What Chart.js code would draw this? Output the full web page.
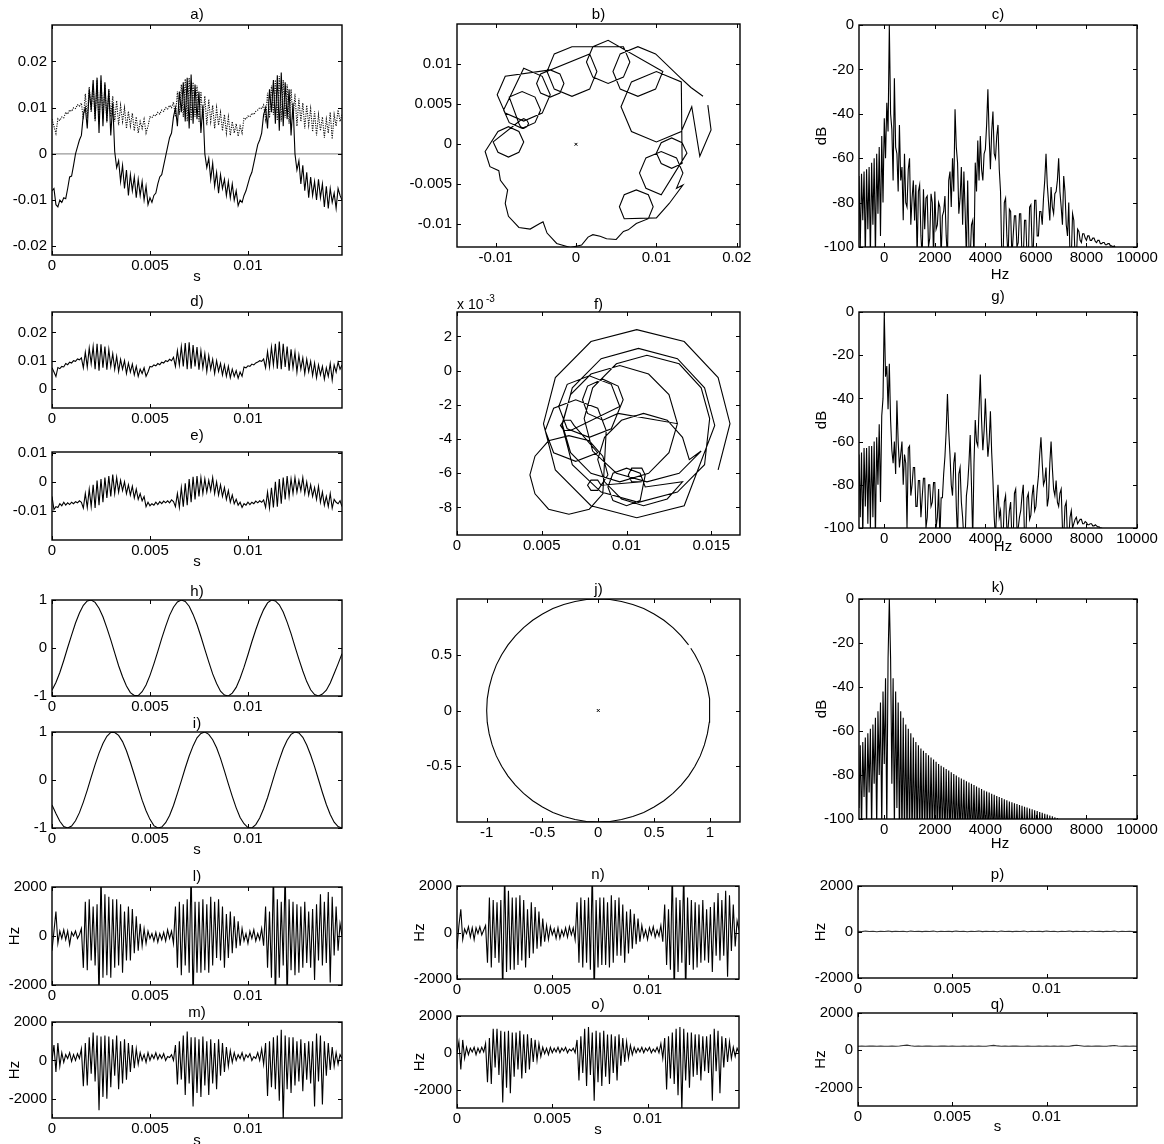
<!DOCTYPE html>
<html>
<head>
<meta charset="utf-8">
<script src="https://cdn.jsdelivr.net/npm/chart.js@4.4.1/dist/chart.umd.min.js"></script>
<style>
  html, body { margin: 0; padding: 0; background: #fff; overflow: hidden; }
  #page { position: relative; width: 1164px; height: 1144px; background: #fff; }
  #page canvas { position: absolute; }
</style>
</head>
<body>
<div id="page"></div>
<script>
// sample spacing of the time signals (s) and of the spectra (Hz)
const STEP = 0.0001;
const STEP_SLOW = 0.0002;
const BIN = 50;
const BIN_START = -1000;

// a) signal and its envelope (also d), e) quadrature part -- units of 1e-4
const signalA = [
  -80,-75,-110,-115,-100,-105,-95,-97,-75,-50,
  -48,-25,0,15,30,40,85,100,55,140,
  95,160,75,165,45,170,60,155,70,140,
  40,110,5,-30,-15,-60,-25,-75,-35,-90,
  -45,-80,-50,-95,-55,-90,-60,-100,-70,-110,
  -95,-105,-90,-85,-65,-50,-45,-25,-5,15,
  35,45,80,100,60,135,90,155,70,165,
  55,172,65,150,75,135,45,105,0,-30,
  -10,-55,-20,-70,-40,-85,-45,-75,-55,-90,
  -60,-95,-65,-100,-80,-112,-100,-105,-90,-80,
  -65,-50,-40,-20,0,20,30,45,85,100,
  55,140,90,160,65,170,50,176,60,155,
  75,140,40,110,0,-35,-15,-65,-25,-80,
  -40,-95,-50,-90,-60,-100,-55,-95,-65,-115,
  -70,-118,-75,-105,-85,-118,-75,-90,-100
];
const envelope = [
  75,60,44,76,72,80,78,90,86,95,
  92,100,98,106,103,110,75,130,78,145,
  90,150,70,160,65,158,75,150,68,140,
  80,125,70,115,62,105,70,100,55,92,
  60,88,50,80,45,70,55,75,45,60,
  80,78,85,82,90,86,95,92,100,97,
  105,100,112,80,135,85,150,80,162,70,
  165,72,155,80,148,68,135,75,125,62,
  118,70,105,55,100,62,90,50,85,45,
  80,40,70,45,65,38,60,45,78,75,
  82,80,88,85,92,95,100,98,106,75,
  132,78,148,85,160,72,168,70,160,78,
  150,65,140,75,130,60,120,70,110,55,
  105,62,98,48,92,40,85,50,80,35,
  75,45,90,32,85,60,95,70,85
];
const quadrature = [
  -50,-95,-85,-88,-75,-82,-70,-80,-72,-78,
  -70,-75,-68,-72,-65,-70,-90,-40,-88,-25,
  -85,-10,-90,5,-80,10,-70,15,-55,20,
  -50,25,-40,15,-35,5,-30,0,-40,-10,
  -45,-15,-55,-25,-60,-40,-65,-50,-85,-70,
  -82,-75,-80,-70,-78,-68,-75,-66,-72,-65,
  -72,-62,-68,-85,-40,-88,-20,-85,-5,-80,
  10,-70,18,-60,20,-50,15,-40,10,-35,
  5,-30,15,-40,0,-45,-10,-50,-20,-60,
  -30,-70,-45,-75,-60,-80,-70,-88,-75,-80,
  -70,-78,-70,-75,-66,-72,-65,-70,-62,-88,
  -35,-90,-20,-88,0,-85,10,-75,15,-60,
  20,-50,10,-40,15,-35,5,-30,15,-40,
  0,-45,-10,-50,-20,-60,-15,-70,-35,-80,
  -50,-85,-40,-90,-60,-70,-75,-65,-85
];
const zeroLevel = [[0, 0], [0.0148, 0]];

// b) and f) trajectories, [real, imaginary] in units of 1e-4
const orbitB = [
  [158,60],[143,71],[129,84],
  [99,113],[77,122],[55,113],[46,91],[55,69],[77,60],[99,69],[108,91],
  [40,130],[21,122],[13,103],[21,84],[40,76],[59,84],[67,103],[59,122],
  [-5,122],[-27,113],[-36,91],[-27,69],[-5,60],[17,69],[26,91],[17,113],
  [-44,88],[-49,76],[-44,64],[-32,59],[-20,64],[-15,76],[-20,88],[-32,93],
  [-88,85],[-98,62],[-88,39],[-65,29],[-42,39],[-32,62],[-42,85],[-65,95],
  [-90,43],[-83,27],[-67,20],[-51,27],[-44,43],[-51,59],[-67,66],[-83,59],
  [-71,26],[-69,22],[-65,20],[-61,22],[-59,26],[-61,30],[-65,32],[-69,30],
  [-103,3],[-97,-10],[-84,-16],[-71,-10],[-65,3],[-71,16],[-84,22],[-97,16],
  [-113,-9],[-107,-28],[-96,-33],[-94,-45],[-85,-57],[-88,-74],[-84,-90],[-71,-104],
  [-57,-106],[-45,-99],[-41,-97],[-36,-111],[-24,-124],[-7,-129],[7,-126],[15,-116],
  [21,-113],[30,-115],[38,-118],[50,-119],[59,-109],[65,-107],
  [75,-99],[90,-93],[96,-78],[90,-63],[75,-57],[60,-63],[54,-78],[60,-93],
  [100,-92],[116,-74],[133,-51],
  [125,-55],[133,-36],[125,-17],[106,-9],[87,-17],[79,-36],[87,-55],[106,-63],
  [138,-11],[132,2],[119,8],[106,2],[100,-11],[106,-24],[119,-30],[132,-24],
  [131,78],[100,91],[69,78],[56,47],[69,16],[100,3],[131,16],[144,47],
  [154,-15],[168,18],[164,49]
];
const orbitF = [
  [154,-58],[161,-31],[154,-4],[134,17],[106,24],[79,17],[58,-4],[51,-31],[58,-58],[79,-79],[106,-86],[134,-79],
  [152,-32],[146,-10],[130,7],[107,13],[85,7],[68,-10],[62,-32],[68,-55],[85,-71],[107,-77],[130,-71],[146,-55],
  [149,-28],[144,-10],[131,4],[112,9],[94,4],[80,-10],[75,-28],[80,-47],[94,-60],[112,-65],[131,-60],[144,-47],
  [137,-52],[133,-39],[124,-29],[110,-25],[97,-29],[87,-39],[83,-52],[87,-65],[97,-75],[110,-79],[124,-75],[133,-65],
  [111,-68],[108,-60],[100,-57],[92,-60],[89,-68],[92,-76],[100,-79],[108,-76],
  [111,-61],[109,-57],[103,-57],[101,-61],[103,-65],[109,-65],
  [85,-67],[83,-64],[79,-64],[77,-67],[79,-70],[83,-70],
  [89,-61],[86,-50],[78,-41],[66,-38],[54,-41],[46,-50],[43,-61],[46,-72],[54,-81],[66,-84],[78,-81],[86,-72],
  [88,-35],[83,-22],[70,-17],[57,-22],[52,-35],[57,-48],[70,-53],[83,-48],
  [69,-32],[67,-29],[63,-29],[61,-32],[63,-35],[67,-35],
  [96,-21],[91,-8],[78,-3],[65,-8],[60,-21],[65,-34],[78,-39],[91,-34],
  [98,-17],[95,-9],[86,-5],[77,-9],[74,-17],[77,-25],[86,-29],[95,-25],
  [130,-31],[125,-14],[113,-2],[96,3],[79,-2],[67,-14],[62,-31],[67,-48],[79,-60],[96,-65],[113,-60],[125,-48],[130,-31]
];

// h), i) pure tone and its quadrature, j) their trajectory
const toneH = [
  -0.88,-0.72,-0.51,-0.26,0.01,0.27,0.52,0.73,0.89,0.98,
  1.00,0.95,0.83,0.65,0.42,0.17,-0.10,-0.37,-0.60,-0.79,
  -0.93,-0.99,-0.99,-0.91,-0.77,-0.57,-0.33,-0.07,0.20,0.45,
  0.68,0.85,0.96,1.00,0.97,0.87,0.70,0.49,0.24,-0.03,
  -0.29,-0.54,-0.74,-0.90,-0.98,-1.00,-0.94,-0.82,-0.63,-0.40,
  -0.14,0.13,0.38,0.61,0.80,0.94,1.00,0.98,0.90,0.75,
  0.54,0.30,0.03,-0.23,-0.48,-0.70,-0.87,-0.97,-1.00,-0.96,
  -0.88,-0.73,-0.53,-0.33,-0.12
];
const toneI = [
  -0.52,-0.70,-0.86,-0.97,-1.00,-0.96,-0.85,-0.68,-0.46,-0.21,
  0.06,0.32,0.56,0.76,0.91,0.99,0.99,0.93,0.80,0.61,
  0.37,0.11,-0.16,-0.42,-0.64,-0.82,-0.95,-1.00,-0.98,-0.89,
  -0.74,-0.53,-0.28,-0.02,0.25,0.50,0.71,0.88,0.97,1.00,
  0.95,0.84,0.67,0.45,0.19,-0.08,-0.34,-0.58,-0.78,-0.91,
  -0.99,-1.00,-0.93,-0.79,-0.60,-0.37,-0.10,0.17,0.42,0.65,
  0.83,0.95,1.00,0.98,0.89,0.73,0.52,0.28,0.01,-0.26,
  -0.51,-0.72,-0.88,-0.97,-1.00
];
const ringJ = [
  [.809,.588],[.743,.669],[.669,.743],[.588,.809],[.5,.866],[.407,.914],[.309,.951],[.208,.978],[.105,.995],[0,1],
  [-.105,.995],[-.208,.978],[-.309,.951],[-.407,.914],[-.5,.866],[-.588,.809],[-.669,.743],[-.743,.669],[-.809,.588],[-.866,.5],
  [-.914,.407],[-.951,.309],[-.978,.208],[-.995,.105],[-1,0],[-.995,-.105],[-.978,-.208],[-.951,-.309],[-.914,-.407],[-.866,-.5],
  [-.809,-.588],[-.743,-.669],[-.669,-.743],[-.588,-.809],[-.5,-.866],[-.407,-.914],[-.309,-.951],[-.208,-.978],[-.105,-.995],[0,-1],
  [.105,-.995],[.208,-.978],[.309,-.951],[.407,-.914],[.5,-.866],[.588,-.809],[.669,-.743],[.743,-.669],[.809,-.588],[.866,-.5],
  [.914,-.407],[.951,-.309],[.978,-.208],[.995,-.105],[1,0],[.995,.105],[.978,.208],[.951,.309],[.914,.407],[.866,.5],[.829,.559]
];

// c), g), k) magnitude spectra in dB, 50 Hz bins from -1000 Hz
const spectrumC = [
  -68,-100,-67,-88,-66,-105,-65,-92,-64,-105,
  -62,-90,-60,-105,-58,-85,-55,-95,-50,-80,
  -42,-60,-35,-48,0,-40,-47,-70,-24,-55,
  -58,-75,-45,-70,-64,-88,-58,-80,-82,-65,
  -60,-90,-78,-70,-88,-72,-105,-75,-72,-95,
  -105,-74,-92,-78,-77,-100,-96,-76,-80,-105,
  -75,-92,-90,-80,-82,-105,-86,-84,-77,-95,
  -105,-70,-66,-82,-60,-75,-38,-55,-62,-85,
  -78,-64,-90,-66,-84,-105,-70,-100,-105,-90,
  -88,-105,-62,-75,-52,-70,-50,-65,-70,-58,
  -56,-45,-29,-50,-65,-48,-39,-58,-60,-50,
  -45,-65,-75,-105,-105,-80,-78,-95,-105,-83,
  -84,-105,-95,-86,-86,-100,-98,-85,-85,-105,
  -105,-88,-88,-105,-105,-82,-81,-100,-100,-79,
  -79,-95,-95,-84,-84,-90,-78,-70,-58,-72,
  -80,-88,-73,-82,-85,-76,-75,-70,-60,-75,
  -82,-90,-68,-75,-90,-95,-80,-105,-105,-85,
  -88,-105,-105,-92,-93,-97,-98,-94,-94,-96,
  -97,-95,-95,-97,-97,-96,-96,-97.5,-98,-97,
  -97,-98.5,-98.5,-98,-98,-99,-99,-98.5,-98.5,-99.5,
  -99.5,-100,-99.5,-100.5,-100.5,-101,-101,-102,-103,-103.5,
  -104,-104.5,-105,-105,-105,-106,-106,-106,-106,-107,
  -107
];
const spectrumG = [
  -66,-95,-65,-105,-63,-90,-63,-98,-62,-100,
  -62,-95,-60,-105,-58,-80,-52,-88,-48,-40,
  0,-30,-25,-45,-24,-50,-64,-70,-60,-75,
  -41,-60,-72,-66,-60,-80,-66,-70,-100,-63,
  -62,-85,-80,-72,-72,-90,-90,-78,-78,-95,
  -86,-77,-77,-100,-95,-80,-80,-90,-88,-79,
  -79,-100,-95,-82,-105,-86,-86,-75,-67,-55,
  -38,-55,-66,-80,-85,-70,-65,-90,-105,-75,
  -72,-88,-95,-105,-105,-85,-80,-70,-57,-80,
  -105,-70,-50,-60,-62,-45,-29,-50,-64,-55,
  -40,-55,-67,-60,-46,-65,-78,-95,-105,-90,
  -80,-95,-92,-105,-105,-88,-85,-100,-100,-92,
  -88,-105,-105,-84,-82,-100,-100,-95,-92,-85,
  -80,-105,-105,-86,-84,-96,-94,-85,-80,-92,
  -90,-82,-76,-66,-58,-70,-80,-78,-72,-90,
  -86,-70,-60,-72,-82,-85,-78,-88,-90,-84,
  -82,-100,-105,-90,-88,-105,-105,-95,-92,-100,
  -98,-96,-95,-98,-97,-96,-96,-98,-98,-97,
  -97.5,-98.5,-98.5,-98,-98,-99,-99,-98.5,-99,-99.5,
  -99.5,-100,-100,-100.5,-100.5,-101,-101,-101.5,-102,-102.5,
  -103,-103.5,-104,-104,-104,-104.5,-105,-105,-105,-105.5,
  -106,-106,-106,-106.5,-107,-107,-107,-107.5,-108,-108,
  -108
];
const spectrumK = [
  -95,-66.5,-105,-65,-90,-63,-105,-61,-88,-59,
  -105,-57,-84,-54,-105,-51,-80,-47,-105,-42,
  -75,-36,-105,-27,0,-27,-84,-36,-105,-42,
  -95,-47,-110,-51,-110,-54,-110,-57,-110,-59,
  -110,-61,-110,-63,-110,-65,-110,-66.5,-110,-68,
  -110,-69,-110,-70,-110,-71,-110,-72,-110,-73,
  -110,-74,-110,-75,-110,-75.8,-110,-76.5,-110,-77.3,
  -110,-78,-110,-78.8,-110,-79.5,-110,-80.2,-110,-81,
  -110,-81.6,-110,-82.2,-110,-82.8,-110,-83.4,-110,-84,
  -110,-84.6,-110,-85.2,-110,-85.8,-110,-86.4,-110,-87,
  -110,-87.5,-110,-88,-110,-88.5,-110,-89,-110,-89.5,
  -110,-90,-110,-90.5,-110,-91,-110,-91.5,-110,-92,
  -110,-92.4,-110,-92.8,-110,-93.2,-110,-93.6,-110,-94,
  -110,-94.4,-110,-94.8,-110,-95.2,-110,-95.6,-110,-96,
  -110,-96.4,-110,-96.8,-110,-97.2,-110,-97.6,-110,-98,
  -110,-98.4,-110,-98.8,-110,-99.2,-110,-99.6,-110,-100,
  -110,-100.4,-110,-100.8,-110,-101.2,-110,-101.6,-110,-102,
  -110,-102.4,-110,-102.8,-110,-103.2,-110,-103.6,-110,-104,
  -110,-104.4,-110,-104.8,-110,-105.2,-110,-105.6,-110,-106,
  -110,-106,-110,-106,-110,-106,-110,-106,-110,-106,
  -110,-106,-110,-106,-110,-106,-110,-106,-110,-106,
  -110,-106,-110,-106,-110,-106,-110,-106,-110,-106,
  -110
];

// l) - q) instantaneous frequency in Hz
const freqL = [
  -600,200,1000,-300,200,-100,250,-150,200,-350,
  150,0,200,-100,50,300,-1300,1400,-1400,1500,
  -1000,1200,-1200,1300,-2600,2600,-1700,1700,-1600,1600,
  -1700,1500,-1300,1500,-1200,1300,-1500,1000,-1000,1200,
  -1000,1100,-700,800,-600,500,-400,300,-300,200,
  -100,100,-200,150,-250,100,-150,150,-200,250,
  -100,200,-300,1200,-1300,1400,-1600,1300,-1200,1500,
  -1500,2800,-2800,1400,-1500,1400,-1500,1500,-1400,1300,
  -1500,1600,-1200,1400,-900,1500,-1000,1200,-1300,900,
  -900,1000,-700,800,-500,600,-400,300,-200,100,
  -300,200,-100,250,-200,100,-150,300,-400,1200,
  -1300,1000,-1700,2800,-2800,1500,-1700,1400,-1200,2800,
  -2800,1500,-1400,1400,-1600,1300,-1500,1200,-1300,1400,
  -1100,1000,-1300,1100,-1800,1300,-1000,1700,-1200,1400,
  -1100,1800,-1900,1600,-800,1200,-600,500,0
];
const freqM = [
  0,800,-600,900,-300,400,-100,300,100,400,
  -50,300,0,350,100,600,-1350,900,-1300,1200,
  -700,1450,-1100,1300,-2600,1250,-1900,1300,-2000,1250,
  -1400,1100,-800,1300,-1500,1000,-1200,1100,-1000,900,
  -600,800,-400,600,-200,400,0,300,-100,400,
  0,300,100,400,50,300,100,350,0,200,
  150,300,0,800,-1250,1000,-1000,1300,-1800,1500,
  -1200,1200,-2400,1200,-1700,1100,-1900,1250,-1300,1000,
  -1800,1100,-1200,900,-1500,1100,-800,900,-600,700,
  -300,500,-100,400,0,300,100,400,0,300,
  150,350,0,200,100,400,0,600,-200,900,
  -1850,1000,-1400,1200,-1500,1300,-2100,1600,-3200,1300,
  -1500,1200,-1700,1200,-1300,1000,-1100,1100,-1600,900,
  -1000,1000,-1200,1000,-2400,1400,-1100,1300,-2300,1000,
  -800,900,-500,700,-300,400,-200,300,100
];
const freqN = [
  -700,300,1000,-300,150,-50,250,-200,200,-300,
  200,-50,250,-100,100,300,-1300,1500,-1500,1400,
  -1100,1300,-1300,1400,-2700,2700,-1700,1800,-1600,1500,
  -1600,1500,-1400,1600,-1200,1400,-1500,1000,-1100,1300,
  -900,1100,-700,900,-600,600,-400,300,-300,250,
  -100,150,-250,200,-250,100,-150,200,-200,250,
  -100,200,-300,1300,-1300,1500,-1500,1400,-1300,1500,
  -1600,2800,-2800,1400,-1500,1500,-1400,1500,-1400,1300,
  -1500,1600,-1300,1400,-1000,1500,-1000,1200,-1300,900,
  -900,1000,-700,800,-500,600,-400,300,-200,100,
  -300,200,-100,250,-200,100,-150,300,-400,1200,
  -1400,1000,-1600,2800,-2800,1500,-1700,1400,-1300,2800,
  -2800,1500,-1400,1400,-1600,1300,-1500,1200,-1300,1400,
  -1200,1000,-1300,1100,-1700,1300,-1000,1700,-1200,1400,
  -1000,1800,-1900,1600,-800,1200,-600,500,100
];
const freqO = [
  0,600,-900,700,-300,300,-100,250,50,300,
  -100,250,0,300,50,500,-1600,800,-1700,1300,
  -800,1300,-1200,1200,-2700,1150,-1900,1200,-2200,1100,
  -1300,1100,-900,1200,-1400,1000,-1100,1000,-900,800,
  -500,700,-400,500,-200,300,-50,250,-100,300,
  0,250,50,300,0,250,100,300,0,200,
  100,250,0,700,-1500,900,-1100,1300,-1800,1400,
  -1200,1100,-2600,1200,-1600,1100,-1800,1200,-1300,1000,
  -1700,1000,-1100,900,-1500,1000,-700,800,-500,600,
  -300,400,-100,300,0,250,50,300,0,250,
  100,300,0,200,50,300,0,500,-300,800,
  -2000,900,-1400,1100,-1700,1300,-2300,1400,-3200,1300,
  -1500,1100,-1900,1100,-1300,1000,-1200,1000,-1500,900,
  -1000,900,-1100,1000,-2600,1300,-1000,1200,-2200,900,
  -800,800,-500,600,-300,300,-200,250,0
];
const freqP = [
  30,15,40,20,35,10,30,25,40,15,
  35,20,30,10,40,25,35,15,30,20,
  40,10,35,25,30,15,40,20,35,10,
  30,25,40,15,35,20,30,10,40,25,
  35,15,30,20,40,10,35,25,30,15,
  40,20,35,10,30,25,40,15,35,20,
  30,10,40,25,35,15,30,20,40,10,
  35,25,30,15,25
];
const freqQ = [
  215,220,210,225,218,212,222,215,210,220,
  215,225,250,270,235,215,220,212,218,222,
  215,210,220,218,212,222,216,214,220,212,
  218,215,222,210,216,240,260,230,214,220,
  212,218,222,215,210,220,216,212,222,215,
  218,212,220,215,222,210,216,245,265,240,
  215,220,212,218,222,215,210,235,250,225,
  215,220,212,218,215
];

// axis limits, tick positions and tick labels
const timeAxis = { min: 0, max: 0.0148, ticks: [0, 0.005, 0.01], labels: ['0', '0.005', '0.01'] };
const freqAxis = { min: -1000, max: 10000, ticks: [0, 2000, 4000, 6000, 8000, 10000], labels: ['0', '2000', '4000', '6000', '8000', '10000'] };
const dbAxis = { min: -100, max: 0, ticks: [-100, -80, -60, -40, -20, 0], labels: ['-100', '-80', '-60', '-40', '-20', '0'] };
const aAxis = { min: -219, max: 279, ticks: [-200, -100, 0, 100, 200], labels: ['-0.02', '-0.01', '0', '0.01', '0.02'] };
const dAxis = { min: -67, max: 272, ticks: [0, 100, 200], labels: ['0', '0.01', '0.02'] };
const eAxis = { min: -200, max: 103, ticks: [-100, 0, 100], labels: ['-0.01', '0', '0.01'] };
const bAxisX = { min: -148, max: 204, ticks: [-100, 0, 100, 200], labels: ['-0.01', '0', '0.01', '0.02'] };
const bAxisY = { min: -128.4, max: 150.4, ticks: [-100, -50, 0, 50, 100], labels: ['-0.01', '-0.005', '0', '0.005', '0.01'] };
const fAxisX = { min: 0, max: 166.9, ticks: [0, 50, 100, 150], labels: ['0', '0.005', '0.01', '0.015'] };
const fAxisY = { min: -96.1, max: 34.3, ticks: [-80, -60, -40, -20, 0, 20], labels: ['-8', '-6', '-4', '-2', '0', '2'] };
const unitAxis = { min: -1, max: 1, ticks: [-1, 0, 1], labels: ['-1', '0', '1'] };
const jAxisX = { min: -1.266, max: 1.27, ticks: [-1, -0.5, 0, 0.5, 1], labels: ['-1', '-0.5', '0', '0.5', '1'] };
const jAxisY = { min: -1, max: 1, ticks: [-0.5, 0, 0.5], labels: ['-0.5', '0', '0.5'] };
const hzAxis = { min: -2000, max: 2000, ticks: [-2000, 0, 2000], labels: ['-2000', '0', '2000'] };
const hzAxisWide = { min: -3000, max: 2000, ticks: [-2000, 0, 2000], labels: ['-2000', '0', '2000'] };

const FONT = '"Liberation Sans", Arial, Helvetica, sans-serif';
const FONT_SIZE = 15;
const PAD = { left: 52, top: 26, right: 26, bottom: 40 };
const page = document.getElementById('page');

const sampled = (values, step, start = 0) => values.map((v, i) => ({ x: start + i * step, y: v }));
const points = (list) => list.map(([x, y]) => ({ x, y }));

function trace(data, extra) {
  return Object.assign({ data, borderColor: '#000', borderWidth: 1.1, pointRadius: 0, tension: 0, fill: false }, extra);
}
function originMark() {
  return { data: [{ x: 0, y: 0 }], showLine: false, pointStyle: 'crossRot', pointRadius: 2, borderColor: '#000', borderWidth: 1 };
}

function scale(spec, vertical) {
  return {
    type: 'linear',
    min: spec.min,
    max: spec.max,
    grid: { display: false, drawTicks: false },
    border: { display: false },
    afterBuildTicks: (s) => { s.ticks = spec.ticks.map((v) => ({ value: v })); },
    afterFit: (s) => { if (vertical) s.width = PAD.left; else s.height = PAD.bottom; },
    ticks: {
      autoSkip: false,
      maxRotation: 0,
      minRotation: 0,
      padding: vertical ? 5 : 2,
      color: '#000',
      font: { family: FONT, size: FONT_SIZE },
      callback: (v, i) => spec.labels[i]
    }
  };
}

// box, inward ticks on all four sides, title and axis labels
const frame = {
  id: 'frame',
  afterDatasetsDraw(chart, args, o) {
    const { ctx, chartArea: a } = chart;
    const { x, y } = chart.scales;
    const len = 4;
    ctx.save();
    ctx.strokeStyle = '#000';
    ctx.lineWidth = 1;
    ctx.beginPath();
    x.ticks.forEach((t) => {
      const px = Math.round(x.getPixelForValue(t.value)) + 0.5;
      ctx.moveTo(px, a.bottom); ctx.lineTo(px, a.bottom - len);
      ctx.moveTo(px, a.top); ctx.lineTo(px, a.top + len);
    });
    y.ticks.forEach((t) => {
      const py = Math.round(y.getPixelForValue(t.value)) + 0.5;
      ctx.moveTo(a.left, py); ctx.lineTo(a.left + len, py);
      ctx.moveTo(a.right, py); ctx.lineTo(a.right - len, py);
    });
    ctx.stroke();
    ctx.lineWidth = 1.4;
    ctx.strokeRect(a.left, a.top, a.right - a.left, a.bottom - a.top);

    const cx = (a.left + a.right) / 2;
    ctx.fillStyle = '#000';
    ctx.font = FONT_SIZE + 'px ' + FONT;
    ctx.textAlign = 'center';
    ctx.textBaseline = 'middle';
    ctx.fillText(o.title, cx, a.top - o.titleGap);
    if (o.xLabel) ctx.fillText(o.xLabel, cx + (o.xShift || 0), a.bottom + o.xGap);
    if (o.yLabel) {
      ctx.save();
      ctx.translate(a.left - 37, (a.top + a.bottom) / 2);
      ctx.rotate(-Math.PI / 2);
      ctx.fillText(o.yLabel, 0, 0);
      ctx.restore();
    }
    if (o.exponent) {
      ctx.textAlign = 'left';
      ctx.font = '14px ' + FONT;
      ctx.fillText('x 10', a.left, a.top - 7);
      ctx.font = '10px ' + FONT;
      ctx.fillText(o.exponent, a.left + 29, a.top - 13);
    }
    ctx.restore();
  }
};

function panel(box, datasets, xSpec, ySpec, labels) {
  const canvas = document.createElement('canvas');
  const w = box[2] - box[0] + PAD.left + PAD.right;
  const h = box[3] - box[1] + PAD.top + PAD.bottom;
  canvas.width = w;
  canvas.height = h;
  canvas.style.left = (box[0] - PAD.left) + 'px';
  canvas.style.top = (box[1] - PAD.top) + 'px';
  canvas.style.width = w + 'px';
  canvas.style.height = h + 'px';
  page.appendChild(canvas);
  new Chart(canvas, {
    type: 'line',
    data: { datasets },
    options: {
      responsive: false,
      animation: false,
      events: [],
      layout: { autoPadding: false, padding: { left: 0, top: PAD.top, right: PAD.right, bottom: 0 } },
      plugins: { legend: { display: false }, tooltip: { enabled: false }, frame: labels },
      scales: { x: scale(xSpec, false), y: scale(ySpec, true) }
    },
    plugins: [frame]
  });
}

// left column
panel([52, 25, 342, 255], [
  trace(sampled(signalA, STEP)),
  trace(sampled(envelope, STEP), { borderColor: '#111', borderDash: [1.2, 1.2] }),
  trace(points(zeroLevel), { borderColor: '#999' })
], timeAxis, aAxis, { title: 'a)', titleGap: 10, xLabel: 's', xGap: 22 });
panel([52, 312, 342, 408], [trace(sampled(envelope, STEP))], timeAxis, dAxis, { title: 'd)', titleGap: 10 });
panel([52, 452, 342, 540], [trace(sampled(quadrature, STEP))], timeAxis, eAxis, { title: 'e)', titleGap: 16, xLabel: 's', xGap: 22 });
panel([52, 600, 342, 696], [trace(sampled(toneH, STEP_SLOW))], timeAxis, unitAxis, { title: 'h)', titleGap: 8 });
panel([52, 732, 342, 828], [trace(sampled(toneI, STEP_SLOW))], timeAxis, unitAxis, { title: 'i)', titleGap: 8, xLabel: 's', xGap: 22 });
panel([52, 887, 342, 985], [trace(sampled(freqL, STEP))], timeAxis, hzAxis, { title: 'l)', titleGap: 10, yLabel: 'Hz' });
panel([52, 1022, 342, 1118], [trace(sampled(freqM, STEP))], timeAxis, hzAxisWide, { title: 'm)', titleGap: 9, yLabel: 'Hz', xLabel: 's', xGap: 23 });

// middle column
panel([457, 24, 740, 247], [trace(points(orbitB)), originMark()], bAxisX, bAxisY, { title: 'b)', titleGap: 9 });
panel([457, 312, 740, 535], [trace(points(orbitF))], fAxisX, fAxisY, { title: 'f)', titleGap: 7, exponent: '-3' });
panel([457, 599, 740, 822], [trace(points(ringJ)), originMark()], jAxisX, jAxisY, { title: 'j)', titleGap: 9 });
panel([457, 886, 739, 979], [trace(sampled(freqN, STEP))], timeAxis, hzAxis, { title: 'n)', titleGap: 11, yLabel: 'Hz' });
panel([457, 1016, 739, 1108], [trace(sampled(freqO, STEP))], timeAxis, hzAxisWide, { title: 'o)', titleGap: 11, yLabel: 'Hz', xLabel: 's', xGap: 22 });

// right column
panel([859, 25, 1137, 247], [trace(sampled(spectrumC, BIN, BIN_START))], freqAxis, dbAxis, { title: 'c)', titleGap: 10, yLabel: 'dB', xLabel: 'Hz', xGap: 28, xShift: 2 });
panel([859, 312, 1137, 528], [trace(sampled(spectrumG, BIN, BIN_START))], freqAxis, dbAxis, { title: 'g)', titleGap: 15, yLabel: 'dB', xLabel: 'Hz', xGap: 19, xShift: 5 });
panel([859, 599, 1137, 819], [trace(sampled(spectrumK, BIN, BIN_START))], freqAxis, dbAxis, { title: 'k)', titleGap: 11, yLabel: 'dB', xLabel: 'Hz', xGap: 25, xShift: 2 });
panel([858, 886, 1137, 978], [trace(sampled(freqP, STEP_SLOW), { borderColor: '#333' })], timeAxis, hzAxis, { title: 'p)', titleGap: 11, yLabel: 'Hz' });
panel([858, 1013, 1137, 1106], [trace(sampled(freqQ, STEP_SLOW), { borderColor: '#333' })], timeAxis, hzAxisWide, { title: 'q)', titleGap: 8, yLabel: 'Hz', xLabel: 's', xGap: 21 });
</script>
</body>
</html>
